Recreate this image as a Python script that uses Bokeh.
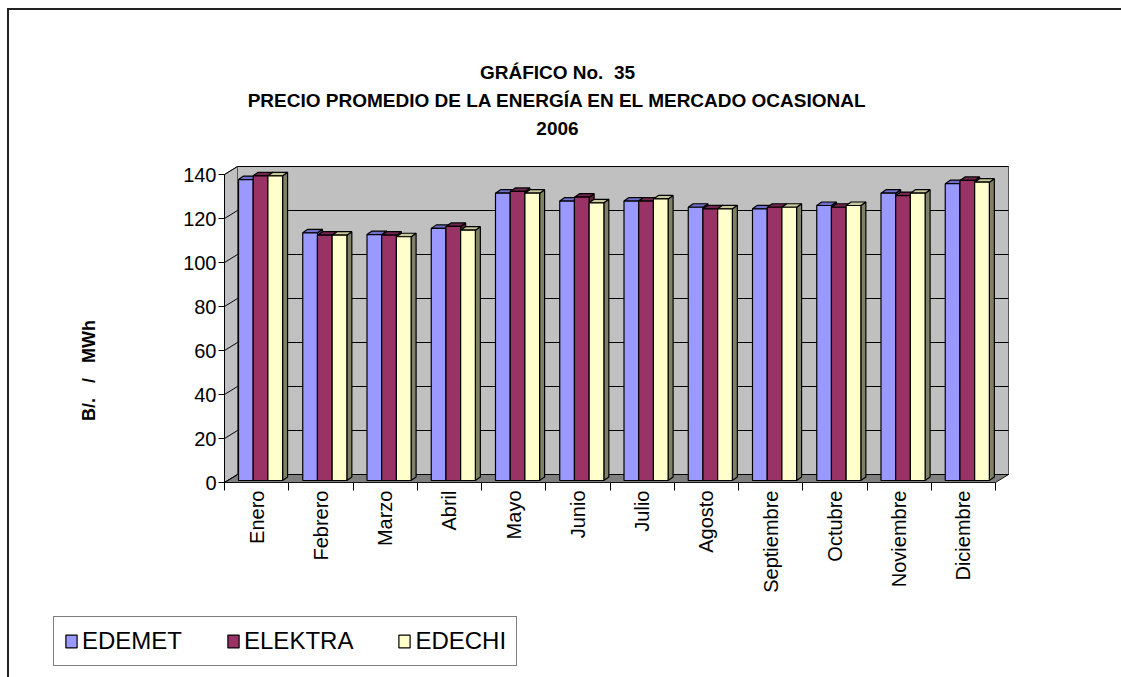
import math
from bokeh.plotting import figure
from bokeh.layouts import column
from bokeh.models import Range1d, FixedTicker, Label, Legend, LegendItem
from bokeh.embed import file_html
from bokeh.resources import INLINE

NB = "\u00a0"

# ---------------- data ----------------
months = ["Enero", "Febrero", "Marzo", "Abril", "Mayo", "Junio", "Julio",
          "Agosto", "Septiembre", "Octubre", "Noviembre", "Diciembre"]
series_names = ["EDEMET", "ELEKTRA", "EDECHI"]
edemet = [136.8, 112.6, 111.8, 114.6, 130.6, 127.0, 127.0, 124.2, 123.5, 125.0, 130.6, 134.9]
elektra = [138.5, 111.5, 111.5, 115.5, 131.4, 128.8, 127.0, 123.5, 124.2, 124.2, 129.5, 136.4]
edechi = [138.5, 111.5, 110.8, 113.8, 130.6, 126.2, 128.0, 123.5, 124.2, 125.0, 130.6, 135.6]
y_ticks = [0, 20, 40, 60, 80, 100, 120, 140]
title_lines = ["GRÁFICO No." + NB * 2 + "35",
               "PRECIO PROMEDIO DE LA ENERGÍA EN EL MERCADO OCASIONAL",
               "2006"]
y_label = "B/." + NB * 3 + "/" + NB * 3 + "MWh"

# ---------------- styles ----------------
front_colors = ["#9999FF", "#993366", "#FFFFCC"]
top_colors = ["#6E6ECC", "#732650", "#C8C89A"]
side_colors = ["#5C5C99", "#5C1F3D", "#808066"]
FONT = "Liberation Sans"

# geometry (page pixels)
OX, OY = 9, 10                 # canvas origin on the page
W = 1121 - OX
H1 = 600                       # chart figure
H2 = 677 - OY - H1             # legend strip
MB_LEFT = 44
CAT_PX = 64.25
UNIT_PX = 2.2
AX_X, AX_Y = 224, 482          # page position of data (0, 0)
FRAME_L = OX + MB_LEFT
FRAME_R = OX + W
FRAME_T = OY
FRAME_B = AX_Y + 8

def dx_px(px):
    return px / CAT_PX

def dy_px(px):
    return px / UNIT_PX

def to_dx(page_x):
    return (page_x - AX_X) / CAT_PX

def to_dy(page_y):
    return (AX_Y - page_y) / UNIT_PX

NC = len(months)
YMAX = y_ticks[-1]
DX, DY = dx_px(13), dy_px(8)          # depth of the box
G0, BW = dx_px(14), dx_px(14.7)        # group offset, bar width
BDX, BDY = dx_px(5), dy_px(3.5)        # bar depth
B0 = dy_px(2)                          # bar base

p = figure(width=W, height=H1,
           x_range=Range1d(to_dx(FRAME_L), to_dx(FRAME_R)),
           y_range=Range1d(to_dy(FRAME_B), to_dy(FRAME_T)),
           output_backend="svg", toolbar_location=None, title=None,
           min_border_left=MB_LEFT, min_border_right=0,
           min_border_top=0, min_border_bottom=OY + H1 - FRAME_B)
p.outline_line_color = None
p.grid.visible = False
p.background_fill_color = "white"
p.border_fill_color = "white"

# ---- walls ----
p.patch([DX, NC + DX, NC + DX, DX], [DY, DY, YMAX + DY, YMAX + DY],
        fill_color="#C0C0C0", line_color="#555555", line_width=1)
p.patch([0, DX, DX, 0], [0, DY, YMAX + DY, YMAX],
        fill_color="#C0C0C0", line_color="#555555", line_width=1)
p.patch([0, NC, NC + DX, DX], [0, 0, DY, DY],
        fill_color="#808080", line_color="#111111", line_width=1)

# gridlines on back wall and side wall
p.multi_line([[DX, NC + DX] for t in y_ticks], [[t + DY, t + DY] for t in y_ticks],
             line_color="#000000", line_width=1)
p.multi_line([[0, DX] for t in y_ticks], [[t, t + DY] for t in y_ticks],
             line_color="#000000", line_width=1)

# ---- bars ----
all_series = [edemet, elektra, edechi]
for j, vals in enumerate(all_series):
    x0s = [i + G0 + j * BW for i in range(NC)]
    x1s = [x + BW for x in x0s]
    tops = [B0 + v for v in vals]
    side_xs = [[x1, x1 + BDX, x1 + BDX, x1] for x1 in x1s]
    side_ys = [[B0, B0 + BDY, t + BDY, t] for t in tops]
    p.patches(side_xs, side_ys, fill_color=side_colors[j], line_color="black", line_width=1.2)
    top_xs = [[a, b, b + BDX, a + BDX] for a, b in zip(x0s, x1s)]
    top_ys = [[t, t, t + BDY, t + BDY] for t in tops]
    p.patches(top_xs, top_ys, fill_color=top_colors[j], line_color="black", line_width=1.2)
    p.quad(left=x0s, right=x1s, bottom=[B0] * NC, top=tops,
           fill_color=front_colors[j], line_color="black", line_width=1.2)

# ---- axes ----
xa = p.xaxis[0]
centers = [i + 0.5 for i in range(NC)]
xa.ticker = FixedTicker(ticks=centers, minor_ticks=list(range(NC + 1)))
xa.major_label_overrides = {c: m for c, m in zip(centers, months)}
xa.major_label_orientation = math.pi / 2
xa.major_tick_out = 0
xa.major_tick_in = 0
xa.minor_tick_out = 0
xa.minor_tick_in = 8
xa.minor_tick_line_color = "black"
xa.axis_line_color = None
xa.bounds = (0, NC)
xa.major_label_standoff = 0
xa.major_label_text_font = FONT
xa.major_label_text_font_size = "20px"
xa.major_label_text_color = "black"

ya = p.yaxis[0]
ya.fixed_location = 0
ya.ticker = FixedTicker(ticks=y_ticks, minor_ticks=[])
ya.bounds = (0, YMAX)
ya.major_tick_out = 6
ya.major_tick_in = 0
ya.major_tick_line_color = "black"
ya.axis_line_color = "black"
ya.major_label_standoff = 2
ya.major_label_text_font = FONT
ya.major_label_text_font_size = "20px"
ya.major_label_text_color = "black"

# ---- texts ----
for k, line in enumerate(title_lines):
    p.add_layout(Label(x=to_dx(557), y=to_dy(72 + 28 * k), text=line,
                       text_align="center", text_baseline="middle",
                       text_font=FONT, text_font_style="bold",
                       text_font_size="19px", text_color="black"))

p.add_layout(Label(x=to_dx(88), y=to_dy(370), text=y_label, angle=math.pi / 2,
                   text_align="center", text_baseline="middle",
                   text_font=FONT, text_font_style="bold",
                   text_font_size="18px", text_color="black"))

# ---- legend strip ----
q = figure(width=W, height=H2, x_range=Range1d(0, 1), y_range=Range1d(0, 1),
           output_backend="svg", toolbar_location=None, title=None,
           x_axis_location=None, y_axis_location=None,
           min_border_left=MB_LEFT, min_border_right=0, min_border_top=0, min_border_bottom=0)
q.outline_line_color = None
q.grid.visible = False
q.background_fill_color = "white"
q.border_fill_color = "white"
legend_renderers = [q.quad(left=[-3], right=[-2], top=[-2], bottom=[-3],
                           fill_color=front_colors[j], line_color="black", line_width=1.2)
                    for j in range(3)]
items = [LegendItem(label=n, renderers=[r]) for n, r in zip(series_names, legend_renderers)]
legend = Legend(items=items, orientation="horizontal",
                location=(0, 11), margin=0,
                label_text_font=FONT, label_text_font_size="24px",
                label_text_color="black", glyph_width=14, glyph_height=16,
                label_standoff=4, spacing=44, padding=10,
                border_line_color="black", border_line_width=1,
                background_fill_color="white", background_fill_alpha=1.0)
q.add_layout(legend)

layout = column(p, q, spacing=0)
layout.styles = {"border-left": "2px solid #222222", "border-top": "2px solid #222222",
                 "margin-left": "7px", "margin-top": "8px"}

open("out.html", "w").write(file_html(layout, INLINE))
